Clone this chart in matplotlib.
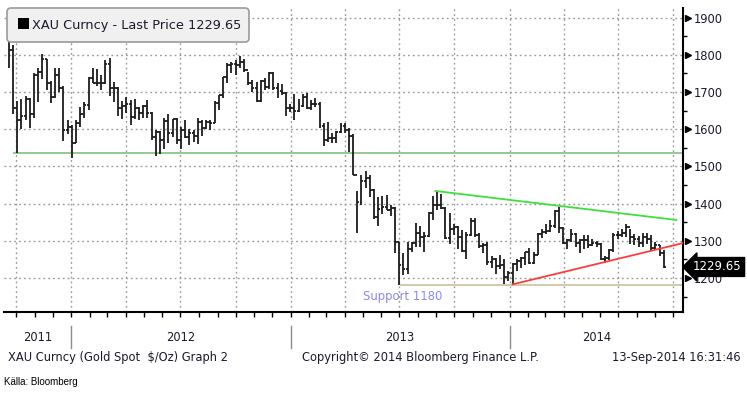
import matplotlib
matplotlib.use('Agg')
import matplotlib.pyplot as plt
import matplotlib.dates as mdates
import matplotlib.transforms as mtransforms
from matplotlib.patches import FancyBboxPatch, Rectangle
import pandas as pd
import numpy as np

# weekly gold bars (XAU Curncy), week ending Friday
first_open = 1856
high = [1845, 1826, 1677, 1680, 1690, 1685, 1750, 1765, 1802, 1790, 1730, 1765, 1765, 1717, 1624, 1610,
        # 2012
        1626, 1660, 1672, 1740, 1764, 1763, 1745, 1786, 1792, 1726, 1713, 1675, 1686, 1678, 1680, 1660,
        1666, 1678, 1646, 1597, 1595, 1630, 1640, 1628, 1630, 1605, 1625, 1600, 1597, 1630, 1624, 1625,
        1625, 1675, 1692, 1741, 1778, 1780, 1787, 1796, 1790, 1755, 1731, 1726, 1733, 1738, 1755, 1755,
        1725, 1722, 1700, 1669,
        # 2013
        1694, 1680, 1694, 1697, 1679, 1684, 1674, 1617, 1619, 1590, 1595, 1616, 1616, 1602, 1588, 1434,
        1476, 1488, 1478, 1440, 1417, 1420, 1424, 1396, 1392, 1297, 1267, 1297, 1297, 1348, 1339, 1324,
        1378, 1420, 1434, 1425, 1391, 1375, 1346, 1339, 1330, 1323, 1361, 1361, 1322, 1294, 1296, 1259,
        1253, 1262, 1250, 1219,
        # 2014
        1240, 1251, 1256, 1270, 1280, 1270, 1320, 1332, 1345, 1355, 1382, 1392, 1338, 1306, 1331, 1322,
        1305, 1315, 1315, 1305, 1299, 1294, 1258, 1278, 1321, 1325, 1332, 1345, 1332, 1318, 1312, 1322,
        1320, 1315, 1296, 1290, 1274]
low = [1765, 1640, 1535, 1600, 1625, 1603, 1630, 1672, 1735, 1706, 1670, 1683, 1700, 1568, 1588, 1523,
       # 2012
       1564, 1606, 1629, 1652, 1724, 1715, 1706, 1721, 1688, 1672, 1636, 1628, 1643, 1612, 1628, 1626,
       1630, 1630, 1572, 1527, 1533, 1546, 1562, 1580, 1560, 1548, 1575, 1557, 1566, 1560, 1582, 1600,
       1598, 1617, 1652, 1683, 1725, 1752, 1747, 1765, 1754, 1720, 1700, 1673, 1673, 1705, 1708, 1705,
       1684, 1692, 1636, 1647,
       # 2013
       1626, 1645, 1660, 1654, 1651, 1659, 1603, 1555, 1565, 1562, 1563, 1590, 1591, 1540, 1476, 1321,
       1395, 1443, 1418, 1359, 1339, 1372, 1382, 1366, 1268, 1180, 1207, 1210, 1269, 1284, 1282, 1270,
       1310, 1357, 1384, 1385, 1306, 1292, 1316, 1278, 1271, 1251, 1313, 1310, 1281, 1267, 1236, 1226,
       1211, 1223, 1185, 1193,
       # 2014
       1182, 1219, 1226, 1235, 1238, 1238, 1262, 1307, 1318, 1323, 1335, 1321, 1291, 1277, 1296, 1283,
       1268, 1278, 1281, 1285, 1284, 1249, 1241, 1249, 1270, 1305, 1310, 1310, 1292, 1290, 1282, 1284,
       1292, 1273, 1274, 1260, 1228]
close = [1813, 1656, 1624, 1635, 1682, 1642, 1745, 1755, 1788, 1724, 1686, 1746, 1711, 1598, 1606, 1564,
         # 2012
         1616, 1640, 1664, 1737, 1725, 1723, 1724, 1775, 1710, 1711, 1658, 1662, 1669, 1632, 1658, 1643,
         1663, 1644, 1579, 1592, 1572, 1622, 1590, 1627, 1572, 1598, 1579, 1591, 1583, 1620, 1604, 1620,
         1616, 1671, 1691, 1740, 1772, 1774, 1773, 1780, 1759, 1724, 1712, 1676, 1730, 1714, 1752, 1711,
         1703, 1696, 1657, 1656,
         # 2013
         1648, 1662, 1687, 1658, 1667, 1667, 1609, 1572, 1576, 1577, 1592, 1608, 1598, 1581, 1476, 1404,
         1462, 1470, 1437, 1365, 1386, 1392, 1383, 1387, 1297, 1234, 1223, 1277, 1294, 1322, 1310, 1313,
         1375, 1395, 1396, 1387, 1308, 1332, 1338, 1310, 1273, 1315, 1352, 1315, 1287, 1288, 1244, 1251,
         1231, 1234, 1204, 1213,
         # 2014
         1237, 1247, 1254, 1270, 1240, 1263, 1318, 1324, 1326, 1339, 1379, 1334, 1294, 1303, 1318, 1293,
         1301, 1302, 1288, 1293, 1292, 1250, 1253, 1274, 1315, 1316, 1320, 1337, 1310, 1306, 1294, 1311,
         1305, 1280, 1288, 1268, 1229.65]
assert len(high) == len(low) == len(close) == 157

weeks = pd.date_range('2011-09-16', periods=len(close), freq='W-FRI')
open_ = [first_open] + close[:-1]
last_price = close[-1]

years = [2011, 2012, 2013, 2014]
y_ticks = [1200, 1300, 1400, 1500, 1600, 1700, 1800, 1900]

# drawn lines
range_low = 1535
support = 1180
resist = (pd.Timestamp('2013-08-30'), 1434, pd.Timestamp('2014-10-06'), 1356)
uptrend = (pd.Timestamp('2014-01-06'), 1183, pd.Timestamp('2014-10-20'), 1295)

W, H = 747, 394
fig = plt.figure(figsize=(W / 100, H / 100), dpi=100)
fx = lambda px: px / W
fy = lambda py: 1 - py / H

ax = fig.add_axes([fx(4), fy(312), fx(683) - fx(4), fy(8) - fy(312)])
x0, x1 = mdates.date2num(pd.Timestamp('2011-09-11')), mdates.date2num(pd.Timestamp('2014-10-17'))
ax.set_xlim(x0, x1)
ax.set_ylim(1108.6, 1925.8)

TXT = '#1a1a2e'
BAR = '#1c1c1c'
xs = mdates.date2num(weeks) + 3
ax.vlines(xs, low, high, color=BAR, lw=1.3, zorder=3)
ax.hlines(open_, xs - 3.3, xs, color=BAR, lw=1.3, zorder=3)
ax.hlines(close, xs, xs + 3.3, color=BAR, lw=1.3, zorder=3)

ax.hlines(range_low, mdates.date2num(pd.Timestamp('2011-09-26')), x1, color='#80c080', lw=1.2, zorder=2)
ax.hlines(support, mdates.date2num(pd.Timestamp('2013-07-02')), x1, color='#c8c49c', lw=1.2, zorder=2)
ax.plot([resist[0], resist[2]], [resist[1], resist[3]], color='#3ee03e', lw=1.3, zorder=4)
ax.plot([uptrend[0], uptrend[2]], [uptrend[1], uptrend[3]], color='#ff3c3c', lw=1.3, zorder=4)
ax.text(pd.Timestamp('2013-07-06'), 1149, 'Support 1180', color='#8a8ae8', fontsize=8.4,
        ha='center', va='center')

# grid / axes
ax.set_xticks(pd.date_range('2011-10-01', '2014-10-01', freq='QS'))
ax.xaxis.set_minor_locator(mdates.MonthLocator())
ax.set_xticklabels([])
ax.grid(True, which='major', color='#9a9a9a', lw=1, linestyle=(0, (1.3, 2.2)))
ax.tick_params(axis='x', which='both', length=3.5, width=1, color='black', direction='out')
ax.yaxis.tick_right()
ax.set_yticks(y_ticks)
ax.set_yticks(np.array(y_ticks) - 50, minor=True)
ax.tick_params(axis='y', which='major', length=0, pad=7.5, labelsize=8.3, labelcolor=TXT)
ax.tick_params(axis='y', which='minor', length=3, width=1, color='black')
for s in ['left', 'top']:
    ax.spines[s].set_visible(False)
for s in ['right', 'bottom']:
    ax.spines[s].set_linewidth(1.5)
    ax.spines[s].set_color('black')

tri = mtransforms.offset_copy(ax.get_yaxis_transform(), fig=fig, x=5, units='dots')
ax.plot([1] * len(y_ticks), y_ticks, linestyle='none', marker='>', ms=4.8, color='black',
        transform=tri, clip_on=False, zorder=5)

ax.text(1.0, last_price, str(last_price), transform=mtransforms.offset_copy(
        ax.get_yaxis_transform(), fig=fig, x=10, units='dots'),
        color='white', fontsize=8.5, va='center', ha='left', clip_on=False, zorder=10,
        bbox=dict(boxstyle='larrow,pad=0.25', fc='black', ec='black'))

# year labels under the axis
xt = ax.get_xaxis_transform()
for yr in years:
    a = max(mdates.date2num(pd.Timestamp(f'{yr}-01-01')), x0)
    b = min(mdates.date2num(pd.Timestamp(f'{yr + 1}-01-01')), x1)
    ax.text((a + b) / 2, -0.083, str(yr), transform=xt, ha='center', va='center',
            fontsize=8.3, color=TXT, clip_on=False)
    if yr > 2011:
        ax.plot([a, a], [-0.045, -0.12], transform=xt, color='#8c8c8c', lw=1, clip_on=False)

# legend box
fig.add_artist(FancyBboxPatch((0.07, 3.52), 2.42, 0.34, boxstyle='round,pad=0,rounding_size=0.04',
                              transform=fig.dpi_scale_trans, fc='#f0f0f0', ec='#9a9a9a', lw=1.2, zorder=5))
fig.add_artist(Rectangle((0.18, 3.65), 0.11, 0.11, transform=fig.dpi_scale_trans, fc='black', zorder=6))
fig.text(fx(32), fy(25), f'XAU Curncy - Last Price {last_price}', fontsize=9.3, color=TXT,
         va='center', ha='left', zorder=7)

fig.text(fx(8), fy(357), 'XAU Curncy (Gold Spot  $/Oz) Graph 2', fontsize=8.3, color=TXT, va='center')
fig.text(fx(302), fy(357), 'Copyright\u00a9 2014 Bloomberg Finance L.P.', fontsize=8.3, color=TXT, va='center')
fig.text(fx(741), fy(357), '13-Sep-2014 16:31:46', fontsize=8.3, color=TXT, va='center', ha='right')
fig.text(fx(4), fy(382), 'Källa: Bloomberg', fontsize=7, family='Liberation Sans', color='black', va='center')

fig.savefig('out.png', dpi=100)
